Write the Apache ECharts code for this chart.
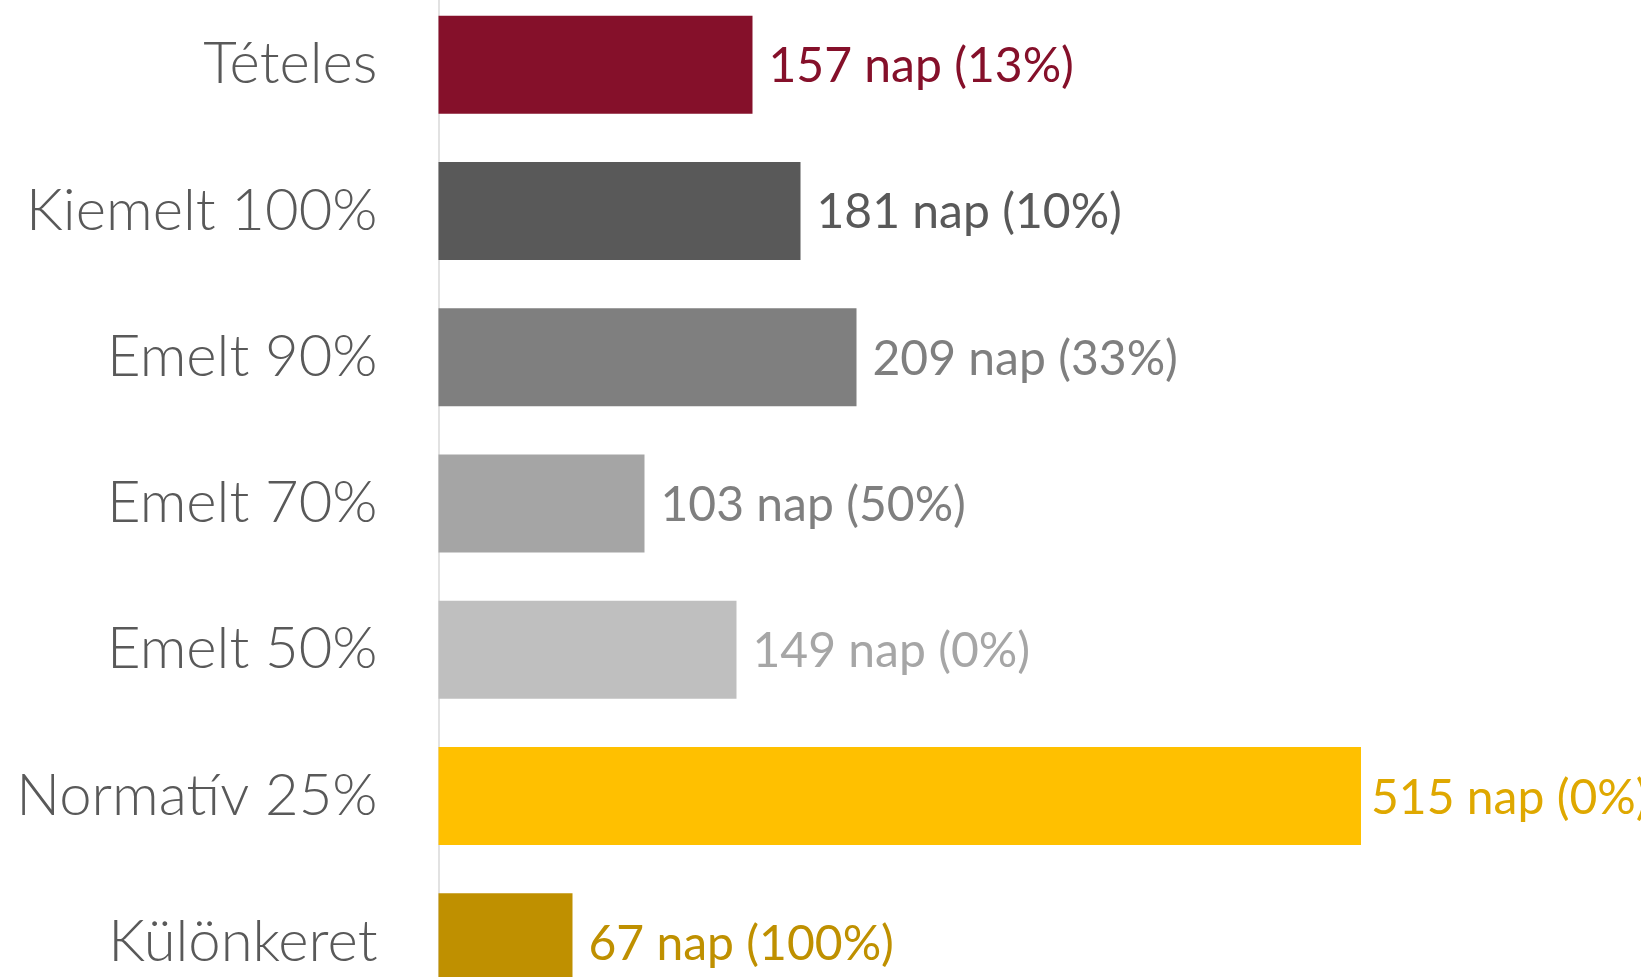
<!DOCTYPE html>
<html>
<head>
<meta charset="utf-8">
<script src="https://cdn.jsdelivr.net/npm/echarts@6/dist/echarts.min.js"></script>
<style>
html, body { margin: 0; padding: 0; background: #fff; }
#chart { width: 1641px; height: 977px; }
</style>
</head>
<body>
<div id="chart"></div>
<script>
var categories = ['Tételes', 'Kiemelt 100%', 'Emelt 90%', 'Emelt 70%', 'Emelt 50%', 'Normatív 25%', 'Különkeret'];
var days = [157, 181, 209, 103, 149, 515, 67];
var percents = [13, 10, 33, 50, 0, 0, 100];
var barColors = ['#85102a', '#595959', '#7f7f7f', '#a5a5a5', '#bfbfbf', '#ffc000', '#bf9000'];
var labelColors = ['#85102a', '#595959', '#7f7f7f', '#7f7f7f', '#a6a6a6', '#dfa800', '#bf9000'];

var myChart = echarts.init(document.getElementById('chart'));

var barData = [];
for (var i = 0; i < days.length; i++) {
    barData.push({
        value: days[i],
        itemStyle: { color: barColors[i] },
        label: {
            color: labelColors[i],
            distance: i === 5 ? 10 : 16
        }
    });
}

var option = {
    animation: false,
    grid: {
        left: 438.5,
        top: -8.5,
        width: 922.5,
        height: 1024,
        outerBoundsMode: 'none',
        containLabel: false
    },
    xAxis: {
        type: 'value',
        min: 0,
        max: 461.25, // Normatív bar runs past the plot edge and is clipped
        show: false
    },
    yAxis: {
        type: 'category',
        inverse: true,
        data: categories,
        axisLine: {
            show: true,
            lineStyle: { color: '#d9d9d9', width: 1.5 }
        },
        axisTick: { show: false },
        axisLabel: {
            margin: 61,
            color: '#595959',
            fontFamily: 'Lato',
            fontWeight: 300,
            fontSize: 58
        }
    },
    series: [{
        type: 'bar',
        barCategoryGap: '33%',
        clip: true,
        data: barData,
        label: {
            show: true,
            position: 'right',
            offset: [0, 2],
            fontFamily: 'Lato',
            fontSize: 48,
            formatter: function (p) {
                return p.value + ' nap (' + percents[p.dataIndex] + '%)';
            }
        }
    }]
};

myChart.setOption(option);
</script>
</body>
</html>
